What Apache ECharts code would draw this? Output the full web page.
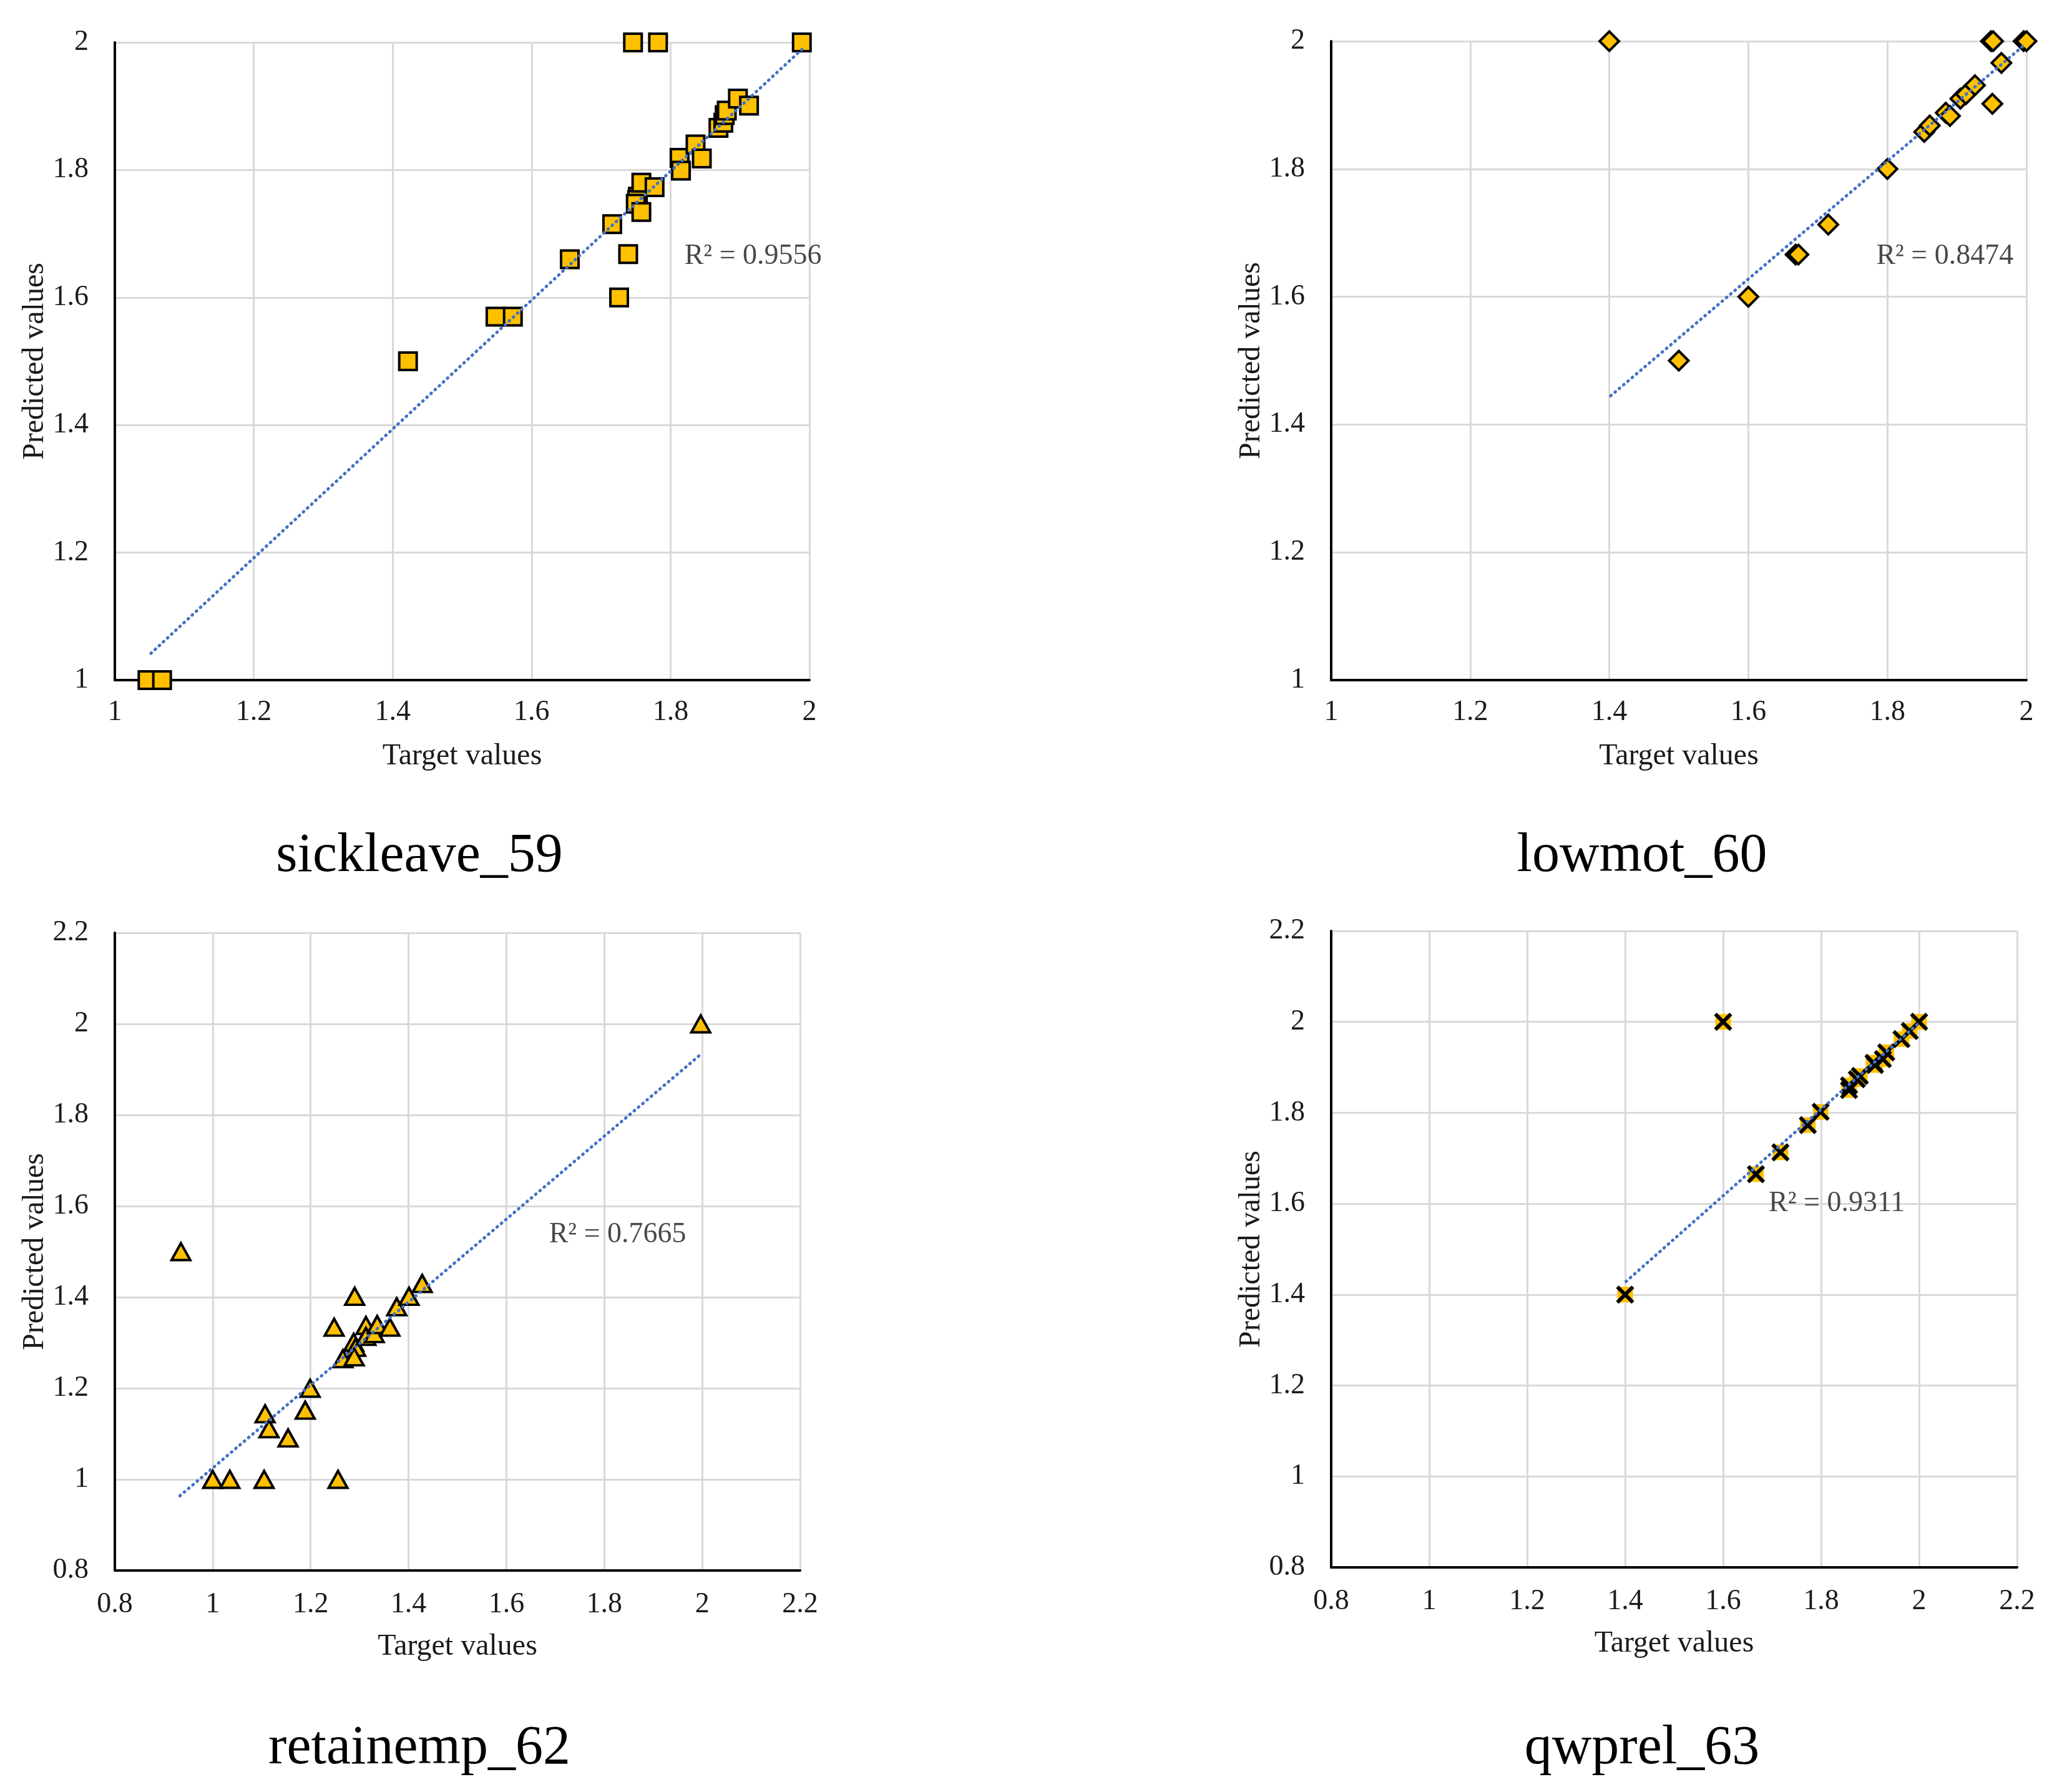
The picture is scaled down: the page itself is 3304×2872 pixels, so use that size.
<!DOCTYPE html>
<html>
<head>
<meta charset="utf-8">
<script src="https://cdn.jsdelivr.net/npm/echarts@6/dist/echarts.min.js"></script>
<style>
  html, body { margin: 0; padding: 0; background: #fff; }
  #main { width: 3304px; height: 2872px; }
</style>
</head>
<body>
<div id="main"></div>
<script>
// panel titles
var panelTitles = ['sickleave_59', 'lowmot_60', 'retainemp_62', 'qwprel_63'];

// sickleave_59 : [target, predicted]
var sickleavePoints = [
  [1.047, 1.0], [1.068, 1.0], [1.422, 1.500], [1.548, 1.570], [1.573, 1.570],
  [1.655, 1.660], [1.716, 1.715], [1.726, 1.600], [1.739, 1.668], [1.746, 2.0],
  [1.782, 2.0], [1.753, 1.758], [1.752, 1.753], [1.750, 1.747], [1.758, 1.734],
  [1.758, 1.780], [1.777, 1.773], [1.813, 1.819], [1.815, 1.799], [1.836, 1.840],
  [1.845, 1.818], [1.869, 1.866], [1.876, 1.874], [1.878, 1.886], [1.881, 1.893],
  [1.897, 1.912], [1.913, 1.901], [1.989, 2.0]
];
var sickleaveTrend = [[1.052, 1.042], [1.99, 1.99]];

// lowmot_60
var lowmotPoints = [
  [1.4, 2.0], [1.5, 1.5], [1.6, 1.6], [1.668, 1.666], [1.672, 1.666],
  [1.715, 1.713], [1.8, 1.8], [1.853, 1.858], [1.861, 1.868], [1.884, 1.888],
  [1.890, 1.883], [1.905, 1.910], [1.913, 1.917], [1.926, 1.931], [1.949, 2.0],
  [1.952, 2.0], [1.951, 1.902], [1.964, 1.966], [1.996, 2.0], [2.0, 2.0]
];
var lowmotTrend = [[1.402, 1.445], [1.998, 1.995]];

// retainemp_62
var retainempPoints = [
  [0.935, 1.5], [1.0, 1.0], [1.035, 1.0], [1.105, 1.0], [1.256, 1.0],
  [1.107, 1.144], [1.115, 1.111], [1.154, 1.091], [1.189, 1.152], [1.199, 1.200],
  [1.248, 1.334], [1.266, 1.265], [1.290, 1.402], [1.288, 1.301], [1.292, 1.290],
  [1.289, 1.269], [1.313, 1.338], [1.313, 1.314], [1.330, 1.320], [1.336, 1.340],
  [1.362, 1.334], [1.376, 1.379], [1.401, 1.402], [1.428, 1.430], [1.997, 2.0]
];
var retainempTrend = [[0.933, 0.964], [1.997, 1.933]];

// qwprel_63
var qwprelPoints = [
  [1.4, 1.4], [1.6, 2.0], [1.667, 1.665], [1.717, 1.713], [1.773, 1.773],
  [1.799, 1.802], [1.857, 1.850], [1.857, 1.860], [1.873, 1.874], [1.879, 1.881],
  [1.907, 1.910], [1.910, 1.905], [1.926, 1.918], [1.933, 1.933], [1.964, 1.962],
  [1.981, 1.980], [2.0, 2.0]
];
var qwprelTrend = [[1.402, 1.429], [2.0, 1.998]];

// R² labels and where they sit (data coords of the text's left edge)
var r2Texts = ['R² = 0.9556', 'R² = 0.8474', 'R² = 0.7665', 'R² = 0.9311'];
var r2Anchors = [[1.82, 1.664], [1.784, 1.663], [1.687, 1.537], [1.693, 1.60]];

// axis ranges per panel
var axisRanges = [
  { min: 1, max: 2 },
  { min: 1, max: 2 },
  { min: 0.8, max: 2.2 },
  { min: 0.8, max: 2.2 }
];

var FONT = 'Liberation Serif';
var YELLOW = '#FFC000';

var grids = [
  { left: 184, top: 68, width: 1113, height: 1022 },
  { left: 2133, top: 66, width: 1114, height: 1024 },
  { left: 184, top: 1495, width: 1098, height: 1022 },
  { left: 2133, top: 1492, width: 1099, height: 1020 }
];

function makeAxis(i, isX) {
  var r = axisRanges[i];
  return {
    type: 'value',
    gridIndex: i,
    min: r.min,
    max: r.max,
    interval: 0.2,
    name: isX ? 'Target values' : 'Predicted values',
    nameLocation: 'middle',
    nameGap: isX ? 98 : 104,
    nameTextStyle: { fontFamily: FONT, fontSize: 48, color: '#1a1a1a' },
    axisLine: { show: true, onZero: false, lineStyle: { color: '#000', width: 4 } },
    axisTick: { show: false },
    axisLabel: { fontFamily: FONT, fontSize: 46, color: '#1a1a1a', margin: isX ? (i > 1 ? 32 : 29) : 42 },
    splitLine: { show: true, lineStyle: { color: '#d9d9d9', width: 3 } }
  };
}

var xAxes = [], yAxes = [];
for (var i = 0; i < 4; i++) {
  xAxes.push(makeAxis(i, true));
  yAxes.push(makeAxis(i, false));
}

var allTrends = [sickleaveTrend, lowmotTrend, retainempTrend, qwprelTrend];

var series = [];

// markers
series.push({
  type: 'scatter', xAxisIndex: 0, yAxisIndex: 0, data: sickleavePoints,
  symbol: 'rect', symbolSize: 28,
  itemStyle: { color: YELLOW, borderColor: '#000', borderWidth: 4, opacity: 1 }, z: 2
});
series.push({
  type: 'scatter', xAxisIndex: 1, yAxisIndex: 1, data: lowmotPoints,
  symbol: 'diamond', symbolSize: 31,
  itemStyle: { color: YELLOW, borderColor: '#000', borderWidth: 4, opacity: 1 }, z: 2
});
series.push({
  type: 'scatter', xAxisIndex: 2, yAxisIndex: 2, data: retainempPoints,
  symbol: 'triangle', symbolSize: [30, 27],
  itemStyle: { color: YELLOW, borderColor: '#000', borderWidth: 4, opacity: 1 }, z: 2
});
// qwprel: yellow square behind a black x
series.push({
  type: 'scatter', xAxisIndex: 3, yAxisIndex: 3, data: qwprelPoints,
  symbol: 'rect', symbolSize: 25,
  itemStyle: { color: YELLOW, opacity: 1 }, z: 2
});
series.push({
  type: 'scatter', xAxisIndex: 3, yAxisIndex: 3, data: qwprelPoints,
  symbol: 'path://M0,0L10,10M10,0L0,10', symbolSize: 25,
  itemStyle: { color: '#000', borderColor: '#000', borderWidth: 6, opacity: 1 }, z: 3
});

// trendlines
for (var t = 0; t < 4; t++) {
  series.push({
    type: 'line', xAxisIndex: t, yAxisIndex: t, data: allTrends[t],
    symbol: 'none', silent: true, z: 4,
    lineStyle: { color: '#4472C4', width: 5, type: [1, 8], cap: 'round' }
  });
}

// R² text
for (var k = 0; k < 4; k++) {
  series.push({
    type: 'scatter', xAxisIndex: k, yAxisIndex: k, data: [r2Anchors[k]],
    symbolSize: 0, silent: true, z: 5,
    label: {
      show: true, position: 'right', distance: 0,
      formatter: r2Texts[k],
      fontFamily: FONT, fontSize: 46, color: '#1a1a1a'
    }
  });
}

var titleCenters = [[667, 1324], [2626, 1324], [667, 2754], [2626, 2754]];
var titles = panelTitles.map(function (txt, i) {
  return {
    text: txt,
    left: titleCenters[i][0],
    top: titleCenters[i][1],
    textAlign: 'center',
    textStyle: { fontFamily: FONT, fontSize: 88, fontWeight: 'normal', color: '#000' }
  };
});

var chart = echarts.init(document.getElementById('main'), null, { renderer: 'canvas' });
chart.setOption({
  backgroundColor: '#fff',
  animation: false,
  title: titles,
  grid: grids,
  xAxis: xAxes,
  yAxis: yAxes,
  series: series
});
</script>
</body>
</html>
